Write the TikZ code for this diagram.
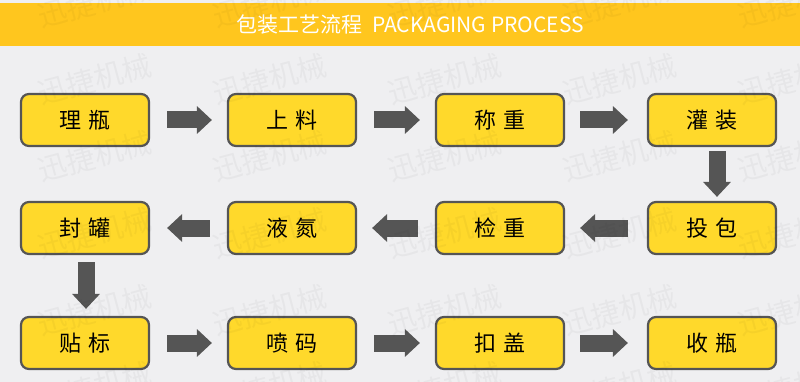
\documentclass[tikz,border=0pt]{standalone}
\usepackage{fontspec}
\setmainfont{Noto Sans CJK SC}
\newfontfamily\cjk{Noto Sans CJK SC}
\usetikzlibrary{arrows.meta}
\definecolor{bgc}{HTML}{EFEFF1}
\definecolor{hdr}{HTML}{FFC61E}
\definecolor{boxfill}{HTML}{FFD92B}
\definecolor{boxline}{HTML}{555555}
\definecolor{arr}{HTML}{555555}
\newcommand{\gp}{\hspace{7pt}}
\tikzset{
  stepbox/.style={draw=boxline, line width=2.2pt, fill=boxfill, rounded corners=8pt,
    minimum width=128pt, minimum height=52pt, inner sep=0pt, font=\cjk\fontsize{22}{22}\selectfont, text=black},
  flowarrow/.style={draw=arr, line width=17pt, -{Triangle[length=15pt,width=27pt]}},
  wmark/.style={font=\cjk\fontsize{29}{29}\selectfont, text=black, text opacity=0.035, rotate=15, inner sep=0pt}
}
\begin{document}
\begin{tikzpicture}[x=1pt,y=-1pt]
\useasboundingbox (0,0) rectangle (800,382);
\fill[bgc] (0,0) rectangle (800,382);
\fill[hdr] (0,3) rectangle (800,46);
\node[font=\cjk\fontsize{21}{21}\selectfont, text=white, inner sep=0pt] (title) at (410,25) {包装工艺流程\hspace{10pt}PACKAGING PROCESS};
% boxes
\node[stepbox] (b1) at (85,120) {理\gp 瓶};
\node[stepbox] (b2) at (292,120) {上\gp 料};
\node[stepbox] (b3) at (500,120) {称\gp 重};
\node[stepbox] (b4) at (712,120) {灌\gp 装};
\node[stepbox] (b5) at (712,228) {投\gp 包};
\node[stepbox] (b6) at (500,228) {检\gp 重};
\node[stepbox] (b7) at (292,228) {液\gp 氮};
\node[stepbox] (b8) at (85,228) {封\gp 罐};
\node[stepbox] (b9) at (85,343) {贴\gp 标};
\node[stepbox] (b10) at (292,343) {喷\gp 码};
\node[stepbox] (b11) at (500,343) {扣\gp 盖};
\node[stepbox] (b12) at (712,343) {收\gp 瓶};
% arrows
\draw[flowarrow, shorten <=17pt, shorten >=15pt] (b1.east) -- (b2.west);
\draw[flowarrow, shorten <=17pt, shorten >=15pt] (b2.east) -- (b3.west);
\draw[flowarrow, shorten <=15pt, shorten >=19pt] (b3.east) -- (b4.west);
\draw[flowarrow, shorten <=4pt, shorten >=4pt] ([xshift=5pt]b4.south) -- ([xshift=5pt]b5.north);
\draw[flowarrow, shorten <=19pt, shorten >=15pt] (b5.west) -- (b6.east);
\draw[flowarrow, shorten <=17pt, shorten >=15pt] (b6.west) -- (b7.east);
\draw[flowarrow, shorten <=17pt, shorten >=17pt] (b7.west) -- (b8.east);
\draw[flowarrow, shorten <=7pt, shorten >=7pt] ([xshift=1pt]b8.south) -- ([xshift=1pt]b9.north);
\draw[flowarrow, shorten <=17pt, shorten >=15pt] (b9.east) -- (b10.west);
\draw[flowarrow, shorten <=17pt, shorten >=15pt] (b10.east) -- (b11.west);
\draw[flowarrow, shorten <=15pt, shorten >=19pt] (b11.east) -- (b12.west);
% watermark
\foreach \i in {-1,0,1,2,3,4} {
  \foreach \j in {0,1,2,3,4,5} {
    \node[wmark] (wm-\i-\j) at ({95+175*\i},{2+77*\j}) {迅捷机械};
  }
}
\end{tikzpicture}
\end{document}
